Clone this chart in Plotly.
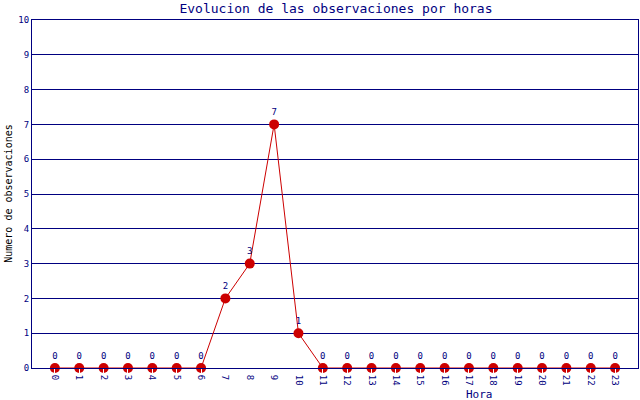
import plotly.graph_objects as go

horas = list(range(24))
observaciones = [0, 0, 0, 0, 0, 0, 0, 2, 3, 7, 1, 0, 0, 0, 0, 0, 0, 0, 0, 0, 0, 0, 0, 0]

navy = '#000080'
red = '#cc0000'
mono = 'DejaVu Sans Mono, monospace'

fig = go.Figure()
fig.add_trace(go.Scatter(
    x=horas,
    y=observaciones,
    mode='lines+markers+text',
    line=dict(color=red, width=1),
    marker=dict(color=red, size=10),
    text=[str(v) for v in observaciones],
    textposition='top center',
    textfont=dict(family=mono, size=9, color=navy),
    cliponaxis=False,
))

fig.update_layout(
    width=640,
    height=400,
    margin=dict(l=32, r=2, t=20, b=32, autoexpand=False),
    paper_bgcolor='white',
    plot_bgcolor='white',
    showlegend=False,
    title=dict(
        text='Evolucion de las observaciones por horas',
        font=dict(family=mono, size=13, color=navy),
        x=0.525, xanchor='center', y=0.978, yanchor='middle',
    ),
    xaxis=dict(
        range=[-0.94, 23.94],
        tickmode='array',
        tickvals=horas,
        ticktext=[str(h) for h in horas],
        tickangle=90,
        ticks='outside',
        ticklen=4,
        tickcolor='white',
        tickfont=dict(family=mono, size=9, color=navy),
        showgrid=False,
        zeroline=False,
        showline=True,
        linecolor=navy,
        mirror=True,
        automargin=False,
    ),
    yaxis=dict(
        range=[0, 10],
        dtick=1,
        tickfont=dict(family=mono, size=9, color=navy),
        showgrid=True,
        gridcolor=navy,
        gridwidth=1,
        zeroline=False,
        showline=True,
        linecolor=navy,
        mirror=True,
        automargin=False,
    ),
    annotations=[
        dict(text='Hora', xref='paper', yref='paper', x=0.738, y=-0.075,
             xanchor='center', yanchor='middle', showarrow=False,
             font=dict(family=mono, size=11, color=navy)),
        dict(text='Numero de observaciones', xref='paper', yref='paper', x=-0.04, y=0.5,
             xanchor='center', yanchor='middle', textangle=-90, showarrow=False,
             font=dict(family=mono, size=10, color='black')),
    ],
)

fig.write_html('out.html', config={'displayModeBar': False},
               post_script="document.body.style.margin='0';document.body.style.overflow='hidden';")
